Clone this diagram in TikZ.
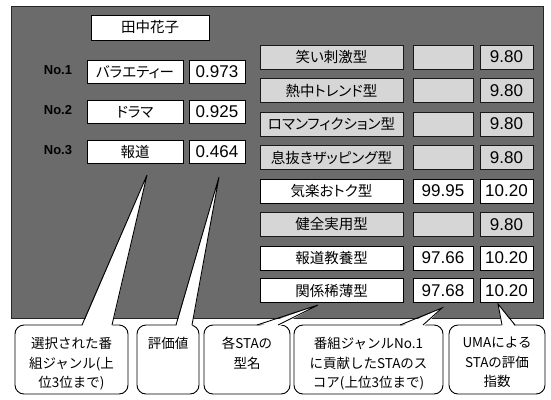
\documentclass[tikz,border=0pt]{standalone}
\usepackage{fontspec}
\setmainfont{Liberation Sans}
\newfontfamily\jp{Noto Sans CJK JP}
\newfontfamily\jpp[RawFeature=+palt]{Noto Sans CJK JP}
\usetikzlibrary{calc}
\begin{document}
\begin{tikzpicture}[x=1pt,y=-1pt,
  panel/.style={draw=black!85, line width=0.8pt, fill=black!58, inner sep=0pt, outer sep=0pt},
  wbox/.style={draw=black, line width=0.9pt, fill=white, inner sep=0pt, outer sep=0pt},
  gbox/.style={draw=black!90, line width=0.9pt, fill=black!16, inner sep=0pt, outer sep=0pt},
  jtxt/.style={font=\jpp\fontsize{14.5}{16}\selectfont},
  num/.style={font=\fontsize{17}{19}\selectfont},
  nolbl/.style={font=\bfseries\fontsize{13}{15}\selectfont, text=black},
  callout/.style={draw=black, line width=0.9pt, fill=white, rounded corners=9pt, inner sep=0pt, outer sep=0pt},
  ctext/.style={font=\jp\fontsize{13.5}{19.5}\selectfont, align=center, anchor=north, inner sep=0pt},
  ptr/.style={draw=black, line width=0.9pt, line join=miter},
  namew/.style={minimum width=143pt, minimum height=24pt},
  scorew/.style={minimum width=60pt, minimum height=24pt},
  idxw/.style={minimum width=53pt, minimum height=24pt},
]
\useasboundingbox (0,0) rectangle (551,399);
\node[panel, minimum width=532pt, minimum height=312pt] (panel) at (277,162) {};

% left part
\node[wbox, jtxt, minimum width=118pt, minimum height=25pt] (user) at (150,27.5) {田中花子};
\node[nolbl] (no1) at (58,70) {No.1};
\node[nolbl] (no2) at (58,110) {No.2};
\node[nolbl] (no3) at (58,150) {No.3};
\node[wbox, jtxt, minimum width=96pt, minimum height=23pt] (g1) at (135,72) {バラエティー};
\node[wbox, jtxt, minimum width=96pt, minimum height=23pt] (g2) at (135,112) {ドラマ};
\node[wbox, jtxt, minimum width=96pt, minimum height=23pt] (g3) at (135,152) {報道};
\node[wbox, num, minimum width=56pt, minimum height=23pt] (v1) at (217,72) {0.973};
\node[wbox, num, minimum width=56pt, minimum height=23pt] (v2) at (217,112) {0.925};
\node[wbox, num, minimum width=56pt, minimum height=23pt] (v3) at (217,152) {0.464};

% right part
\node[gbox, jtxt, namew] (n1) at (331.5,57) {笑い刺激型};
\node[gbox, scorew] (s1) at (443,57) {};
\node[gbox, num, idxw] (x1) at (506.5,57) {9.80};

\node[gbox, jtxt, namew] (n2) at (331.5,90.5) {熱中トレンド型};
\node[gbox, scorew] (s2) at (443,90.5) {};
\node[gbox, num, idxw] (x2) at (506.5,90.5) {9.80};

\node[gbox, jtxt, namew] (n3) at (331.5,124) {ロマンフィクション型};
\node[gbox, scorew] (s3) at (443,124) {};
\node[gbox, num, idxw] (x3) at (506.5,124) {9.80};

\node[gbox, jtxt, namew] (n4) at (331.5,157.5) {息抜きザッピング型};
\node[gbox, scorew] (s4) at (443,157.5) {};
\node[gbox, num, idxw] (x4) at (506.5,157.5) {9.80};

\node[wbox, jtxt, namew] (n5) at (331.5,191) {気楽おトク型};
\node[wbox, num, scorew] (s5) at (443,191) {99.95};
\node[wbox, num, idxw] (x5) at (506.5,191) {10.20};

\node[gbox, jtxt, namew] (n6) at (331.5,224.5) {健全実用型};
\node[gbox, scorew] (s6) at (443,224.5) {};
\node[gbox, num, idxw] (x6) at (506.5,224.5) {9.80};

\node[wbox, jtxt, namew] (n7) at (331.5,258) {報道教養型};
\node[wbox, num, scorew] (s7) at (443,258) {97.66};
\node[wbox, num, idxw] (x7) at (506.5,258) {10.20};

\node[wbox, jtxt, namew] (n8) at (331.5,290.5) {関係稀薄型};
\node[wbox, num, scorew] (s8) at (443,290.5) {97.68};
\node[wbox, num, idxw] (x8) at (506.5,290.5) {10.20};

% callouts
\node[callout, minimum width=113pt, minimum height=69pt] (c1) at (71.5,359.5) {};
\node[callout, minimum width=62pt, minimum height=69pt] (c2) at (168,359.5) {};
\node[callout, minimum width=86pt, minimum height=69pt] (c3) at (247,359.5) {};
\node[callout, minimum width=149pt, minimum height=69pt] (c4) at (368.5,359.5) {};
\node[callout, minimum width=96pt, minimum height=69pt] (c5) at (497,359.5) {};

\coordinate (t1) at ($(g3.south)+(12,11.5)$);
\coordinate (t2) at ($(v3.south)+(2,13.5)$);
\coordinate (t3) at ($(n8.south)+(-13.5,2.5)$);
\coordinate (t4) at ($(s8.south)+(-1,5.5)$);
\coordinate (t5) at ($(x8.south)+(-8.5,1.5)$);

\coordinate (b1l) at ($(c1.north west)+(67,0)$);
\coordinate (b1r) at ($(c1.north west)+(97,0)$);
\coordinate (b2l) at ($(c2.north west)+(39,0)$);
\coordinate (b2r) at ($(c2.north west)+(55,0)$);
\coordinate (b3l) at ($(c3.north west)+(53,0)$);
\coordinate (b3r) at ($(c3.north west)+(74,0)$);
\coordinate (b4l) at ($(c4.north west)+(106,0)$);
\coordinate (b4r) at ($(c4.north west)+(129,0)$);
\coordinate (b5l) at ($(c5.north west)+(53,0)$);
\coordinate (b5r) at ($(c5.north west)+(66,0)$);

\foreach \k in {1,...,5}{
  \fill[white] ($(b\k l)+(0,2)$) -- (t\k) -- ($(b\k r)+(0,2)$) -- cycle;
  \draw[ptr] (b\k l) -- (t\k) -- (b\k r);
}

\node[ctext] (c1t) at ($(c1.north)+(0,12)$) {選択された番\\組ジャンル(上\\位3位まで)};
\node[ctext] (c2t) at ($(c2.north)+(0,12)$) {評価値};
\node[ctext] (c3t) at ($(c3.north)+(0,12)$) {各STAの\\型名};
\node[ctext] (c4t) at ($(c4.north)+(0,12)$) {番組ジャンルNo.1\\に貢献したSTAのス\\コア(上位3位まで)};
\node[ctext] (c5t) at ($(c5.north)+(0,12)$) {UMAによる\\STAの評価\\指数};
\end{tikzpicture}
\end{document}
